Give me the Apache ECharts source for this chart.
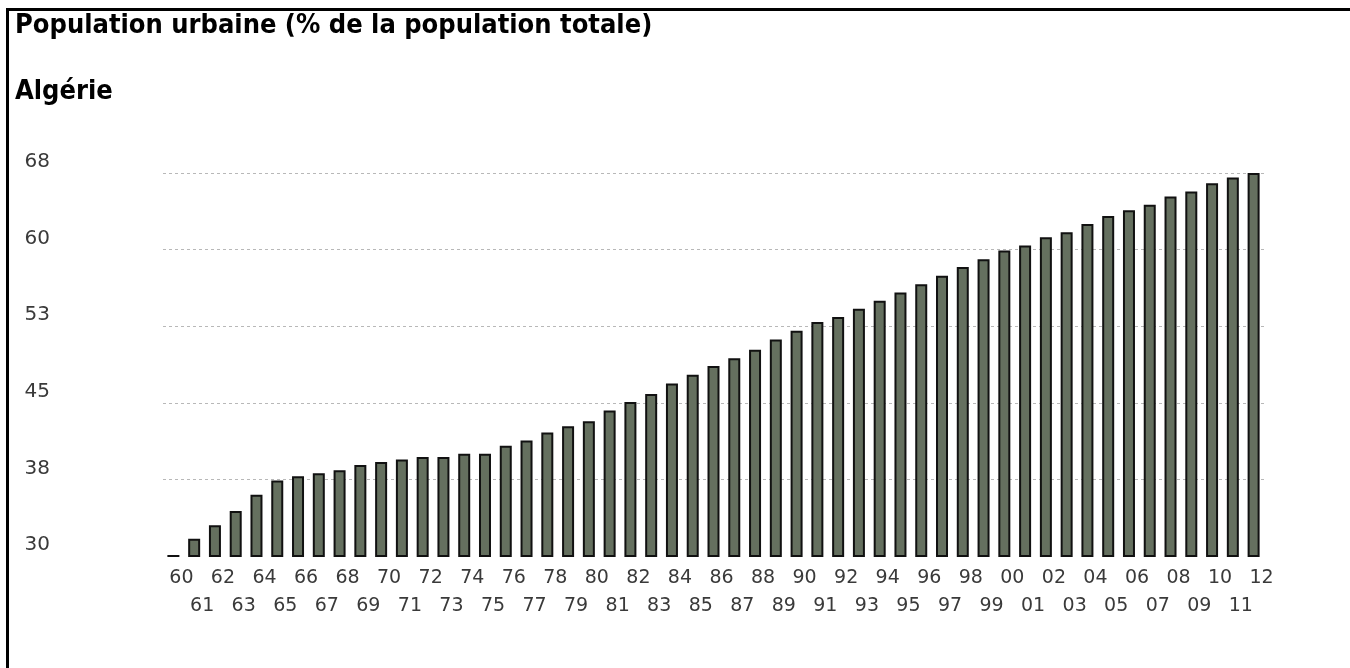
<!DOCTYPE html>
<html>
<head>
<meta charset="utf-8">
<script src="https://cdn.jsdelivr.net/npm/echarts@6/dist/echarts.min.js"></script>
<style>
  html, body { margin: 0; padding: 0; background: #fff; }
  #chart { width: 1350px; height: 668px; }
</style>
</head>
<body>
<div id="chart"></div>
<script>
var yearLabels = ['60','61','62','63','64','65','66','67','68','69',
                  '70','71','72','73','74','75','76','77','78','79',
                  '80','81','82','83','84','85','86','87','88','89',
                  '90','91','92','93','94','95','96','97','98','99',
                  '00','01','02','03','04','05','06','07','08','09',
                  '10','11','12'];

var urbanPct = [30.1, 31.7, 33.0, 34.4, 36.0, 37.4, 37.8, 38.1, 38.4, 38.9,
                39.2, 39.45, 39.7, 39.7, 40.0, 40.0, 40.8, 41.3, 42.1, 42.7,
                43.2, 44.25, 45.07, 45.85, 46.9, 47.75, 48.6, 49.35, 50.2, 51.2,
                52.06, 52.9, 53.4, 54.2, 55.0, 55.8, 56.6, 57.45, 58.3, 59.05,
                59.9, 60.4, 61.2, 61.7, 62.5, 63.3, 63.85, 64.4, 65.2, 65.7,
                66.5, 67.05, 67.5];

var chart = echarts.init(document.getElementById('chart'));

var titleStyle = { fontFamily: 'DejaVu Sans Condensed', fontWeight: 'bold', fontSize: 27, color: '#000' };

var option = {
    backgroundColor: '#fff',
    animation: false,
    title: [
        { text: 'Population urbaine (% de la population totale)', left: 10, top: 7, textStyle: titleStyle },
        { text: 'Algérie', left: 10, top: 73, textStyle: titleStyle }
    ],
    graphic: [
        { type: 'line', shape: { x1: 7.5, y1: 8, x2: 7.5, y2: 668 }, style: { stroke: '#000', lineWidth: 3 } },
        { type: 'line', shape: { x1: 6, y1: 9.5, x2: 1350, y2: 9.5 }, style: { stroke: '#000', lineWidth: 3 } }
    ],
    grid: { left: 163, right: 86, top: 173, bottom: 112 },
    xAxis: {
        type: 'category',
        data: yearLabels,
        axisLine: { show: false },
        axisTick: { show: false },
        axisLabel: {
            interval: 0,
            margin: 8,
            fontFamily: 'DejaVu Sans',
            fontSize: 19,
            lineHeight: 28,
            color: '#3a3a3a',
            padding: [0, 0, 0, 16],
            formatter: function (v, i) { return i % 2 ? '\n' + v : v; }
        }
    },
    yAxis: {
        type: 'value',
        min: 30,
        max: 67.5,
        interval: 7.5,
        axisLine: { show: false },
        axisTick: { show: false },
        axisLabel: {
            margin: 113,
            fontFamily: 'DejaVu Sans',
            fontSize: 20,
            color: '#3a3a3a',
            verticalAlign: 'bottom',
            padding: [0, 0, 1, 0],
            formatter: function (v) { return Math.round(v); }
        },
        splitLine: {
            showMinLine: false,
            lineStyle: { color: '#b8b8b8', type: [3, 3], width: 1 }
        }
    },
    series: [
        {
            type: 'bar',
            data: urbanPct,
            barWidth: 12,
            itemStyle: { color: '#65705f', borderColor: '#111', borderWidth: 2 }
        }
    ]
};

chart.setOption(option);
</script>
</body>
</html>
